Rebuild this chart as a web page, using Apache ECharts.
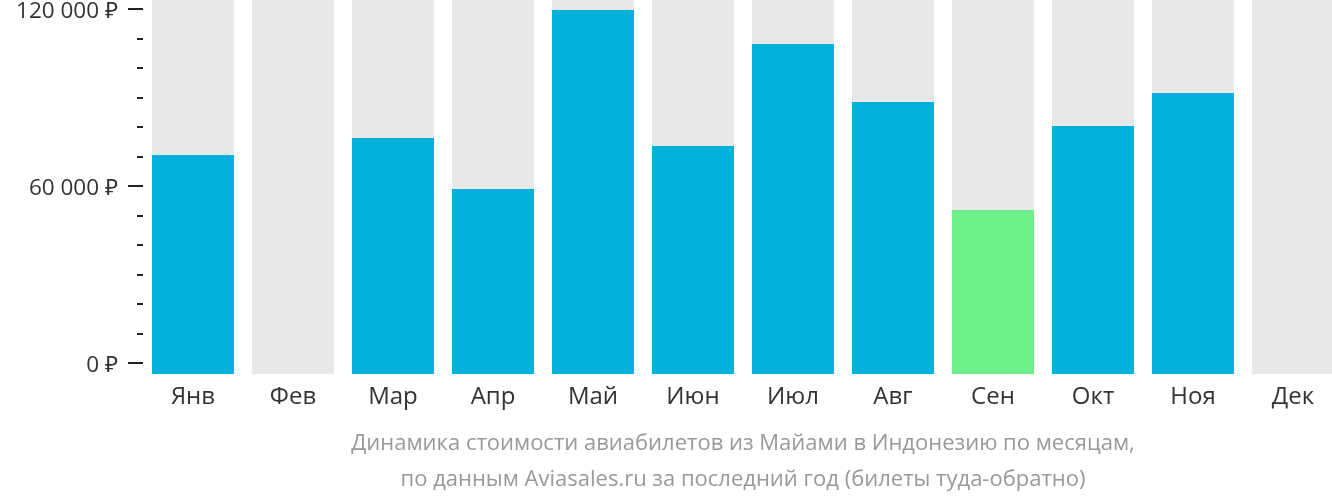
<!DOCTYPE html>
<html>
<head>
<meta charset="utf-8">
<script src="https://cdn.jsdelivr.net/npm/echarts@6/dist/echarts.min.js"></script>
<style>
html,body{margin:0;padding:0;background:#fff;}
#chart{width:1332px;height:502px;}
</style>
</head>
<body>
<div id="chart"></div>
<script>
const categories = ['Янв','Фев','Мар','Апр','Май','Июн','Июл','Авг','Сен','Окт','Ноя','Дек'];
const prices = [70500, null, 76300, 59000, 119700, 73600, 108100, 88500, 51900, 80300, 91500, null];
const highlightIndex = 8;
const tickValues = [0,10000,20000,30000,40000,50000,60000,70000,80000,90000,100000,110000,120000];
const labelValues = [0,60000,120000];

const yMin = -3729;
const yMax = 123051;
const BLUE = '#00b1dd';
const GREEN = '#6cf08a';
const GRAY = '#e8e8e8';
const FONT = '"Open Sans", "Noto Sans", sans-serif';

function fmt(v){
  return '{t|' + String(v).replace(/\B(?=(\d{3})+(?!\d))/g, ' ') + ' ₽}';
}

const chart = echarts.init(document.getElementById('chart'), null, {renderer:'canvas'});

const bgData = categories.map((c,i)=>[i]);
const valData = [];
prices.forEach((v,i)=>{ if(v!==null) valData.push([i, v]); });

chart.setOption({
  animation:false,
  grid:{left:143, width:1200, top:0, height:374, containLabel:false, outerBoundsMode:'none'},
  xAxis:{
    type:'category', data:categories,
    axisLine:{show:false}, axisTick:{show:false}, splitLine:{show:false},
    axisLabel:{color:'#333', fontSize:24, fontFamily:FONT, margin:11}
  },
  yAxis:[{
    type:'value', min:yMin, max:yMax, position:'left',
    splitLine:{show:false}, axisLine:{show:false},
    axisTick:{show:true, length:15, customValues:labelValues, lineStyle:{color:'#222', width:2}},
    axisLabel:{show:true, customValues:labelValues, formatter:fmt, color:'#333', fontSize:22.5, fontFamily:FONT, margin:25,
      rich:{t:{color:'#333', fontSize:22.5, fontFamily:FONT, padding:[6,0,0,0]}}}
  },{
    type:'value', min:yMin, max:yMax, position:'left',
    splitLine:{show:false}, axisLine:{show:false},
    axisTick:{show:true, length:6, customValues:tickValues, lineStyle:{color:'#222', width:2}},
    axisLabel:{show:false}
  }],
  series:[{
    type:'custom', xAxisIndex:0, yAxisIndex:0, data:bgData, encode:{x:0},
    renderItem:function(params, api){
      const cs = params.coordSys;
      const c = api.coord([api.value(0), yMin]);
      const w = api.size([1,0])[0]*0.82;
      return {type:'rect', shape:{x:c[0]-w/2, y:cs.y, width:w, height:cs.height}, style:{fill:GRAY}};
    }
  },{
    type:'custom', xAxisIndex:0, yAxisIndex:0, data:valData, encode:{x:0, y:1},
    renderItem:function(params, api){
      const idx = api.value(0);
      const top = api.coord([idx, api.value(1)]);
      const base = api.coord([idx, yMin]);
      const w = api.size([1,0])[0]*0.82;
      return {type:'rect', shape:{x:top[0]-w/2, y:top[1], width:w, height:base[1]-top[1]},
        style:{fill: idx===highlightIndex ? GREEN : BLUE}};
    }
  }],
  graphic:[{
    type:'text', x:743, y:444,
    style:{text:'Динамика стоимости авиабилетов из Майами в Индонезию по месяцам,', x:0, y:0, align:'center', verticalAlign:'middle', fill:'#999', font:'22px ' + FONT}
  },{
    type:'text', x:743, y:480,
    style:{text:'по данным Aviasales.ru за последний год (билеты туда-обратно)', x:0, y:0, align:'center', verticalAlign:'middle', fill:'#999', font:'22px ' + FONT}
  }]
});
</script>
</body>
</html>
